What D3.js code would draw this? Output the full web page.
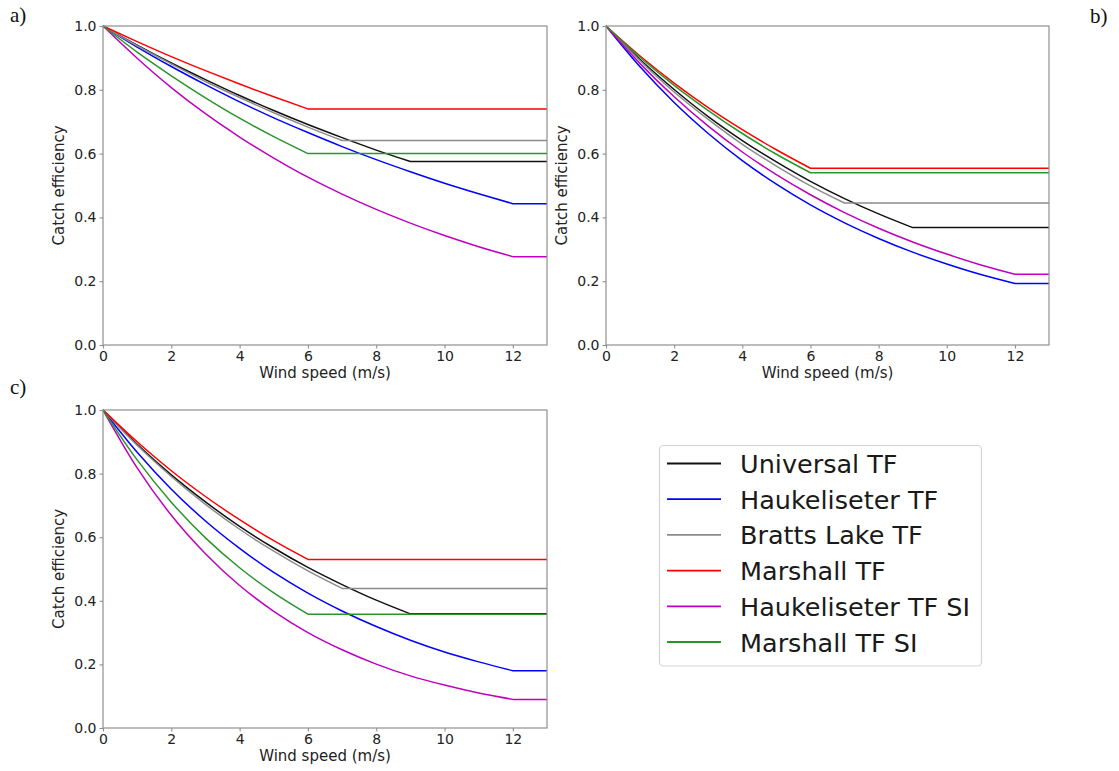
<!DOCTYPE html>
<html>
<head>
<meta charset="utf-8">
<script src="https://cdn.jsdelivr.net/npm/d3@7"></script>
<style>
  html, body { margin: 0; padding: 0; background: #fff; }
  svg { display: block; }
  .tick text { font-family: "DejaVu Sans", sans-serif; font-size: 14px; fill: #222; }
  .axis-title { font-family: "DejaVu Sans", sans-serif; font-size: 15px; fill: #222; }
  .panel-label { font-family: "Liberation Serif", "Times New Roman", serif; font-size: 21px; fill: #111; }
  .legend-text { font-family: "DejaVu Sans", sans-serif; font-size: 25.5px; fill: #1a1a1a; }
</style>
</head>
<body>
<svg id="chart" width="1119" height="771"></svg>
<script>
// Transfer functions, in drawing / legend order
const seriesNames = ["Universal TF", "Haukeliseter TF", "Bratts Lake TF", "Marshall TF", "Haukeliseter TF SI", "Marshall TF SI"];
const seriesColors = ["#111111", "#0000ff", "#8c8c8c", "#ff0000", "#bf00bf", "#2a952a"];
// Wind speed (m/s) above which each transfer function is held constant
const capSpeeds = [9, 12, 7, 6, 12, 6];

const windTicks = [0, 2, 4, 6, 8, 10, 12];
const efficiencyTicks = [0.0, 0.2, 0.4, 0.6, 0.8, 1.0];
const windMax = 13;

// Catch efficiency at wind speeds 0, 1, 2, ... up to each function's cap
const panelAValues = [
  [1, 0.940, 0.884, 0.832, 0.782, 0.735, 0.691, 0.650, 0.611, 0.575],
  [1, 0.934, 0.873, 0.816, 0.762, 0.712, 0.666, 0.622, 0.581, 0.543, 0.507, 0.474, 0.443],
  [1, 0.938, 0.881, 0.826, 0.776, 0.728, 0.683, 0.641],
  [1, 0.951, 0.904, 0.860, 0.818, 0.778, 0.740],
  [1, 0.899, 0.807, 0.725, 0.652, 0.586, 0.526, 0.473, 0.425, 0.382, 0.343, 0.308, 0.277],
  [1, 0.918, 0.844, 0.775, 0.711, 0.653, 0.600]
];
const panelBValues = [
  [1, 0.895, 0.801, 0.716, 0.641, 0.574, 0.513, 0.459, 0.411, 0.368],
  [1, 0.872, 0.760, 0.663, 0.578, 0.504, 0.439, 0.383, 0.334, 0.291, 0.254, 0.221, 0.193],
  [1, 0.891, 0.793, 0.707, 0.629, 0.561, 0.499, 0.445],
  [1, 0.906, 0.821, 0.744, 0.675, 0.612, 0.554],
  [1, 0.882, 0.778, 0.686, 0.605, 0.534, 0.471, 0.415, 0.366, 0.323, 0.285, 0.251, 0.222],
  [1, 0.902, 0.814, 0.735, 0.663, 0.598, 0.540]
];
const panelCValues = [
  [1, 0.892, 0.796, 0.711, 0.634, 0.566, 0.505, 0.451, 0.402, 0.359],
  [1, 0.867, 0.751, 0.651, 0.565, 0.489, 0.424, 0.368, 0.319, 0.276, 0.239, 0.208, 0.180],
  [1, 0.889, 0.791, 0.703, 0.625, 0.556, 0.494, 0.439],
  [1, 0.900, 0.809, 0.728, 0.655, 0.589, 0.530],
  [1, 0.818, 0.669, 0.548, 0.448, 0.367, 0.300, 0.246, 0.201, 0.164, 0.135, 0.110, 0.090],
  [1, 0.843, 0.710, 0.598, 0.504, 0.425, 0.358]
];

const svg = d3.select("#chart");

const panels = [
  { label: "a)", values: panelAValues, left: 103, top: 26, width: 444, height: 319, labelX: 10, labelY: 22 },
  { label: "b)", values: panelBValues, left: 606, top: 26, width: 443, height: 319, labelX: 1090, labelY: 22.5 },
  { label: "c)", values: panelCValues, left: 103, top: 410, width: 444, height: 318, labelX: 10, labelY: 394 }
];

panels.forEach(p => {
  const x = d3.scaleLinear().domain([0, windMax]).range([p.left, p.left + p.width]);
  const y = d3.scaleLinear().domain([0, 1]).range([p.top + p.height, p.top]);
  const g = svg.append("g");

  // Transfer-function curves: smooth decay up to the cap, then constant
  const curve = d3.line()
    .x(d => x(d[0]))
    .y(d => y(d[1]))
    .curve(d3.curveMonotoneX);

  p.values.forEach((vals, i) => {
    const pts = vals.map((v, k) => [k, v]);
    const last = vals[vals.length - 1];
    const path = curve(pts) + `L${x(windMax)},${y(last)}`;
    g.append("path")
      .attr("d", path)
      .attr("fill", "none")
      .attr("stroke", seriesColors[i])
      .attr("stroke-width", 1.5)
      .attr("stroke-linejoin", "round");
  });

  // Frame
  g.append("rect")
    .attr("x", p.left).attr("y", p.top)
    .attr("width", p.width).attr("height", p.height)
    .attr("fill", "none")
    .attr("stroke", "#8f8f8f")
    .attr("stroke-width", 1.2);

  // Axes
  const xAxis = g.append("g")
    .attr("transform", `translate(0,${p.top + p.height})`)
    .call(d3.axisBottom(x).tickValues(windTicks).tickSize(3.5).tickPadding(3).tickFormat(d3.format("d")));
  const yAxis = g.append("g")
    .attr("transform", `translate(${p.left},0)`)
    .call(d3.axisLeft(y).tickValues(efficiencyTicks).tickSize(3.5).tickPadding(3).tickFormat(d3.format(".1f")));
  [xAxis, yAxis].forEach(a => {
    a.select(".domain").remove();
    a.selectAll(".tick line").attr("stroke", "#8f8f8f").attr("stroke-width", 1.1);
  });

  // Axis titles
  g.append("text")
    .attr("class", "axis-title")
    .attr("x", p.left + p.width / 2)
    .attr("y", p.top + p.height + 33)
    .attr("text-anchor", "middle")
    .text("Wind speed (m/s)");
  g.append("text")
    .attr("class", "axis-title")
    .attr("transform", `translate(${p.left - 39},${p.top + p.height / 2}) rotate(-90)`)
    .attr("text-anchor", "middle")
    .text("Catch efficiency");

  // Panel letter
  svg.append("text")
    .attr("class", "panel-label")
    .attr("x", p.labelX)
    .attr("y", p.labelY)
    .text(p.label);
});

// Legend
const legend = svg.append("g");
legend.append("rect")
  .attr("x", 659.5).attr("y", 445.5)
  .attr("width", 322).attr("height", 220.5)
  .attr("rx", 4)
  .attr("fill", "#fff")
  .attr("stroke", "#d4d4d4")
  .attr("stroke-width", 1.2);

const rowY = d3.scalePoint().domain(seriesNames).range([463.5, 642]);
seriesNames.forEach((name, i) => {
  const yy = rowY(name);
  legend.append("line")
    .attr("x1", 667).attr("x2", 721)
    .attr("y1", yy).attr("y2", yy)
    .attr("stroke", seriesColors[i])
    .attr("stroke-width", 1.8);
  legend.append("text")
    .attr("class", "legend-text")
    .attr("x", 740)
    .attr("y", yy + 9.5)
    .text(name);
});
</script>
</body>
</html>
